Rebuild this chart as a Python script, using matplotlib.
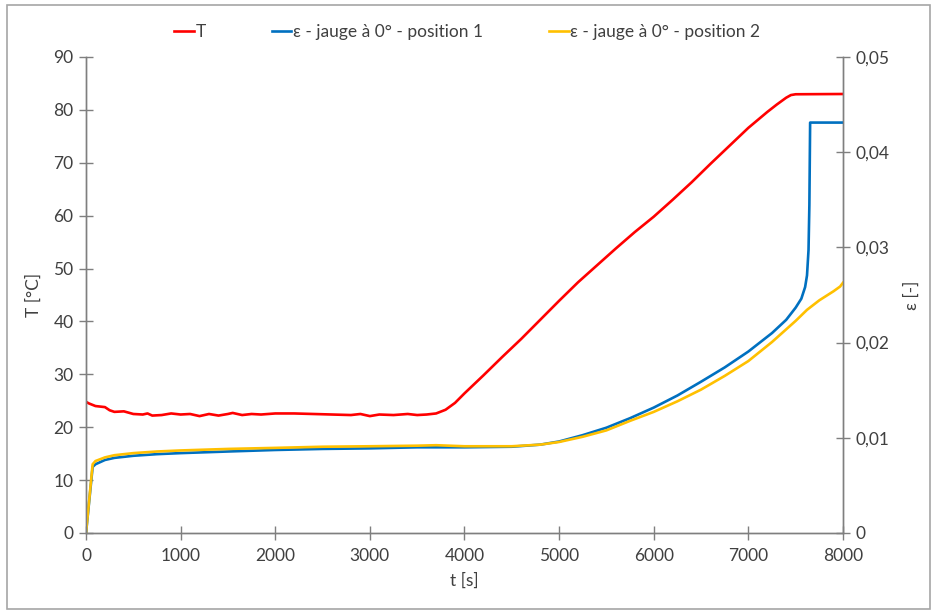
import numpy as np
import matplotlib.pyplot as plt
from matplotlib.patches import Rectangle
from matplotlib.ticker import FuncFormatter

plt.rcParams['font.family'] = ['Lato', 'DejaVu Sans']

# temperature
t_T = [0, 30, 100, 200, 250, 300, 400, 500, 600, 650, 700, 800, 900, 1000, 1100, 1200,
       1300, 1400, 1500, 1550, 1650, 1750, 1850, 2000, 2200, 2400, 2600, 2800, 2900, 3000,
       3100, 3250, 3400, 3500, 3600, 3700, 3800, 3900, 4000, 4200, 4400, 4600, 4800, 5000,
       5200, 5400, 5600, 5800, 6000, 6200, 6400, 6600, 6800, 7000, 7200, 7300,
       7400, 7450, 7500, 8000]
T = [24.8, 24.5, 24.0, 23.8, 23.2, 22.9, 23.0, 22.5, 22.4, 22.6, 22.2, 22.3, 22.6, 22.4, 22.5, 22.1,
     22.5, 22.2, 22.5, 22.7, 22.3, 22.5, 22.4, 22.6, 22.6, 22.5, 22.4, 22.3, 22.5, 22.1,
     22.4, 22.3, 22.5, 22.3, 22.4, 22.6, 23.3, 24.6, 26.4, 29.8, 33.3, 36.7, 40.3, 43.9,
     47.4, 50.6, 53.8, 56.9, 59.8, 63.0, 66.3, 69.8, 73.2, 76.6, 79.6, 81.0,
     82.3, 82.8, 82.95, 83.0]

# strain gauge 1
t_e1 = [0, 70, 100, 200, 300, 500, 750, 1000, 1500, 2000, 2500, 3000, 3500, 4000, 4500, 4800,
        5000, 5250, 5500, 5750, 6000, 6250, 6500, 6750, 7000, 7250, 7400, 7500, 7560, 7600,
        7620, 7636, 7645, 7653, 7700, 8000]
eps1 = [0, 0.00694, 0.00722, 0.00767, 0.00789, 0.00811, 0.00828, 0.00839, 0.00856, 0.00872,
        0.00883, 0.00889, 0.00900, 0.00900, 0.00906, 0.00928, 0.00961, 0.01028, 0.01106, 0.01206,
        0.01317, 0.01444, 0.01589, 0.01739, 0.01906, 0.02100, 0.02239, 0.02367, 0.02461, 0.02583,
        0.02706, 0.02972, 0.03444, 0.04311, 0.04311, 0.04311]

# strain gauge 2
t_e2 = [0, 70, 100, 200, 300, 500, 750, 1000, 1500, 2000, 2500, 3000, 3500, 3700, 4000, 4500,
        4800, 5000, 5250, 5500, 5750, 6000, 6250, 6500, 6750, 7000, 7250, 7500, 7620, 7750,
        7900, 7970, 8000]
eps2 = [0, 0.00722, 0.00756, 0.00794, 0.00817, 0.00839, 0.00856, 0.00867, 0.00883, 0.00894,
        0.00906, 0.00911, 0.00917, 0.00922, 0.00911, 0.00911, 0.00928, 0.00956, 0.01011, 0.01078,
        0.01178, 0.01272, 0.01383, 0.01506, 0.01650, 0.01806, 0.02006, 0.02228, 0.02344, 0.02444,
        0.02539, 0.02589, 0.02628]

grey = '#7f7f7f'
txt = '#404040'

fig = plt.figure(figsize=(9.36, 6.12), dpi=100)
fig.patches.append(Rectangle((0.008, 0.005), 0.986, 0.987, transform=fig.transFigure,
                             fill=False, edgecolor='#a6a6a6', linewidth=1.2))
ax = fig.add_axes([0.0919, 0.1291, 0.8087, 0.7778])
ax2 = ax.twinx()

l1, = ax.plot(t_T, T, color='#ff0000', lw=1.9)
l2, = ax2.plot(t_e1, eps1, color='#0070c0', lw=1.9)
l3, = ax2.plot(t_e2, eps2, color='#ffc000', lw=1.9)

ax.set_xlim(0, 8000)
ax.set_ylim(0, 90)
ax2.set_ylim(0, 0.05)
ax.set_xticks(np.arange(0, 8001, 1000))
ax.set_yticks(np.arange(0, 91, 10))
ax2.set_yticks(np.arange(0, 0.0501, 0.01))
ax2.yaxis.set_major_formatter(FuncFormatter(lambda v, p: '0' if abs(v) < 1e-9 else ('%.2f' % v).replace('.', ',')))

for a in (ax, ax2):
    a.spines['top'].set_visible(False)
    for s in ('left', 'bottom', 'right'):
        a.spines[s].set_color(grey)
        a.spines[s].set_linewidth(1.0)
    a.tick_params(direction='inout', length=10, width=1, color=grey, labelcolor=txt, labelsize=12.5)
ax.tick_params(axis='x', pad=6)
ax.tick_params(axis='y', pad=4)
ax2.tick_params(axis='y', pad=4)

ax.set_xlabel('t [s]', fontsize=12.5, color=txt, labelpad=6)
ax.set_ylabel('T [°C]', fontsize=12.5, color=txt, labelpad=8)
ax2.set_ylabel('ε [-]', fontsize=12.5, color=txt, rotation=90, labelpad=10)

fig.legend([l1, l2, l3], ['T', 'ε - jauge à 0° - position 1', 'ε - jauge à 0° - position 2'],
           loc='center', bbox_to_anchor=(0.499, 0.947), ncol=3, frameon=False,
           handlelength=1.15, handletextpad=0.08, columnspacing=3.8, fontsize=12.5,
           labelcolor=txt)

fig.savefig('out.png', dpi=100)
